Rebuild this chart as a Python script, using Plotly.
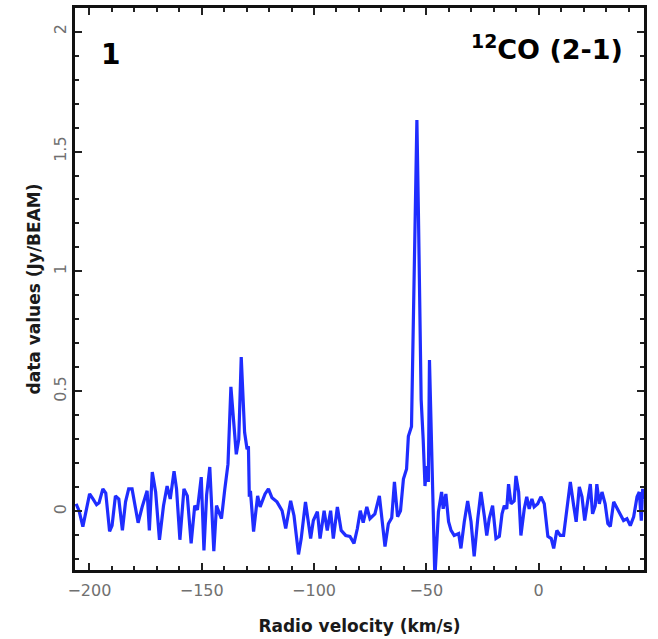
import plotly.graph_objects as go

# 12CO (2-1) spectrum: radio velocity (km/s) vs flux density (Jy/beam)
velocity = [
    -205.9, -204.6, -202.9, -201.7, -199.9, -198.4, -196.8, -195.7, -194.0, -192.7,
    -191.0, -189.9, -188.4, -186.9, -185.3, -183.9, -182.5, -181.0, -179.4, -178.3,
    -176.5, -174.3, -173.3, -172.0, -170.5, -168.8, -167.0, -165.4, -164.0, -162.3,
    -161.2, -159.7, -157.9, -156.4, -154.7, -153.1, -151.9, -150.2, -149.0, -147.8,
    -146.4, -144.6, -143.4, -142.3, -141.2, -139.7, -138.3, -137.0, -136.0, -134.6,
    -133.5, -132.4, -130.9, -129.8, -129.2, -128.8, -128.3, -126.9, -125.1, -124.0,
    -121.8, -120.3, -118.7, -116.5, -114.2, -112.6, -110.4, -108.9, -106.9, -105.7,
    -103.8, -101.5, -100.3, -98.5, -97.3, -95.5, -94.1, -92.6, -91.4, -89.6,
    -87.9, -85.9, -84.0, -82.2, -80.7, -79.4, -78.1, -76.5, -75.1, -72.9,
    -70.9, -69.5, -68.4, -66.9, -65.4, -64.2, -62.8, -61.5, -60.2, -58.8,
    -58.0, -56.6, -55.7, -55.1, -54.2, -53.5, -52.8, -52.3, -51.4, -50.6,
    -49.8, -49.1, -48.6, -47.9, -47.2, -46.2, -45.0, -44.6, -43.2, -42.5,
    -41.3, -40.1, -39.0, -37.6, -35.6, -34.6, -33.1, -31.6, -30.1, -28.7,
    -27.1, -25.7, -24.2, -23.1, -22.0, -20.5, -19.0, -17.5, -16.3, -15.3,
    -14.2, -13.4, -12.3, -10.9, -10.1, -8.9, -7.9, -6.4, -5.3, -4.2,
    -3.0, -2.0, -0.4, 1.0, 2.5, 3.2, 4.1, 5.6, 6.7, 8.1,
    9.6, 11.1, 12.6, 14.1, 15.6, 16.7, 18.1, 19.3, 20.5, 21.5,
    23.0, 24.0, 25.2, 25.9, 27.0, 28.2, 29.6, 30.8, 31.9, 33.4,
    34.9, 36.3, 37.8, 39.3, 40.8, 42.3, 43.8, 44.8, 45.7, 46.3,
    46.9,
]
flux = [
    0.032, 0.003, -0.063, -0.005, 0.073, 0.052, 0.028, 0.036, 0.094, 0.077,
    -0.083, -0.059, 0.065, 0.052, -0.079, 0.040, 0.094, 0.094, -0.001, -0.047,
    0.019, 0.086, -0.079, 0.164, 0.081, -0.118, 0.024, 0.106, 0.052, 0.168,
    0.094, -0.118, 0.094, 0.065, -0.133, 0.024, 0.007, 0.143, -0.162, 0.069,
    0.185, -0.166, 0.024, -0.005, -0.030, 0.094, 0.197, 0.519, 0.404, 0.238,
    0.300, 0.643, 0.330, 0.259, 0.272, 0.061, 0.086, -0.084, 0.065, 0.019,
    0.073, 0.094, 0.057, 0.040, 0.003, -0.071, 0.044, -0.018, -0.179, -0.113,
    0.040, -0.113, -0.038, -0.001, -0.113, 0.003, -0.079, 0.003, -0.113, 0.019,
    -0.079, -0.100, -0.104, -0.133, -0.071, 0.003, -0.047, 0.019, -0.030, -0.010,
    0.065, -0.059, -0.146, -0.051, -0.026, 0.123, -0.022, 0.003, 0.135, 0.177,
    0.313, 0.354, 0.879, 1.209, 1.631, 1.230, 0.879, 0.466, 0.300, 0.106,
    0.189, 0.123, 0.631, 0.362, 0.032, -0.278, -0.071, -0.001, 0.081, 0.011,
    0.073, -0.043, -0.079, -0.100, -0.092, -0.154, -0.043, 0.044, -0.043, -0.187,
    -0.030, 0.081, -0.018, -0.100, -0.030, 0.024, -0.113, -0.104, -0.010, 0.024,
    0.011, 0.114, 0.032, 0.044, 0.148, 0.081, -0.100, 0.011, 0.061, 0.011,
    0.052, 0.019, 0.032, 0.061, 0.032, -0.038, -0.104, -0.113, -0.154, -0.079,
    -0.100, -0.100, 0.024, 0.123, 0.024, -0.043, 0.102, 0.061, -0.038, 0.032,
    0.114, -0.010, 0.024, 0.114, 0.032, 0.081, 0.032, -0.051, -0.063, 0.040,
    0.011, -0.010, -0.038, -0.030, -0.059, -0.022, 0.061, 0.081, -0.038, 0.094,
    0.052,
]

x_ticks = [-200, -150, -100, -50, 0]
y_ticks = [0, 0.5, 1, 1.5, 2]

panel_label = "1"
line_label = "<sup>12</sup>CO (2-1)"

fig = go.Figure()
fig.add_trace(go.Scatter(
    x=velocity, y=flux, mode="lines",
    line=dict(color="#1f2dff", width=3.2),
    showlegend=False, hoverinfo="skip",
))

axis_common = dict(
    showline=True, linecolor="#111111", linewidth=2.5, mirror="allticks",
    ticks="inside", ticklen=7, tickwidth=1.5, tickcolor="#222222",
    showgrid=False, zeroline=False,
    tickfont=dict(family="DejaVu Sans", size=16, color="#707070"),
)

fig.update_xaxes(
    **axis_common,
    range=[-206.4, 46.9],
    tickvals=x_ticks,
    ticklabelstandoff=4,
    minor=dict(ticks="inside", dtick=10, ticklen=4, tickwidth=1.5, tickcolor="#222222"),
    title=dict(text="<b>Radio velocity (km/s)</b>", standoff=22,
               font=dict(family="DejaVu Sans", size=17, color="#1a1a1a")),
)
fig.update_yaxes(
    **axis_common,
    range=[-0.244, 2.098],
    tickvals=y_ticks,
    tickangle=-90,
    minor=dict(ticks="inside", dtick=0.1, ticklen=4, tickwidth=1.5, tickcolor="#222222"),
    title=dict(text="<b>data values (Jy/BEAM)</b>", standoff=6,
               font=dict(family="DejaVu Sans", size=17, color="#1a1a1a")),
)

fig.add_annotation(
    x=0.062, y=0.918, xref="paper", yref="paper", xanchor="center", yanchor="middle",
    text="<b>" + panel_label + "</b>", showarrow=False,
    font=dict(family="DejaVu Sans", size=28, color="black"),
)
fig.add_annotation(
    x=0.966, y=0.93, xref="paper", yref="paper", xanchor="right", yanchor="middle",
    text="<b>" + line_label + "</b>", showarrow=False,
    font=dict(family="DejaVu Sans", size=27, color="black"),
)

fig.update_layout(
    width=658, height=639,
    margin=dict(l=75, r=14, t=5, b=67),
    paper_bgcolor="white", plot_bgcolor="white",
)

fig.write_html("out.html")
